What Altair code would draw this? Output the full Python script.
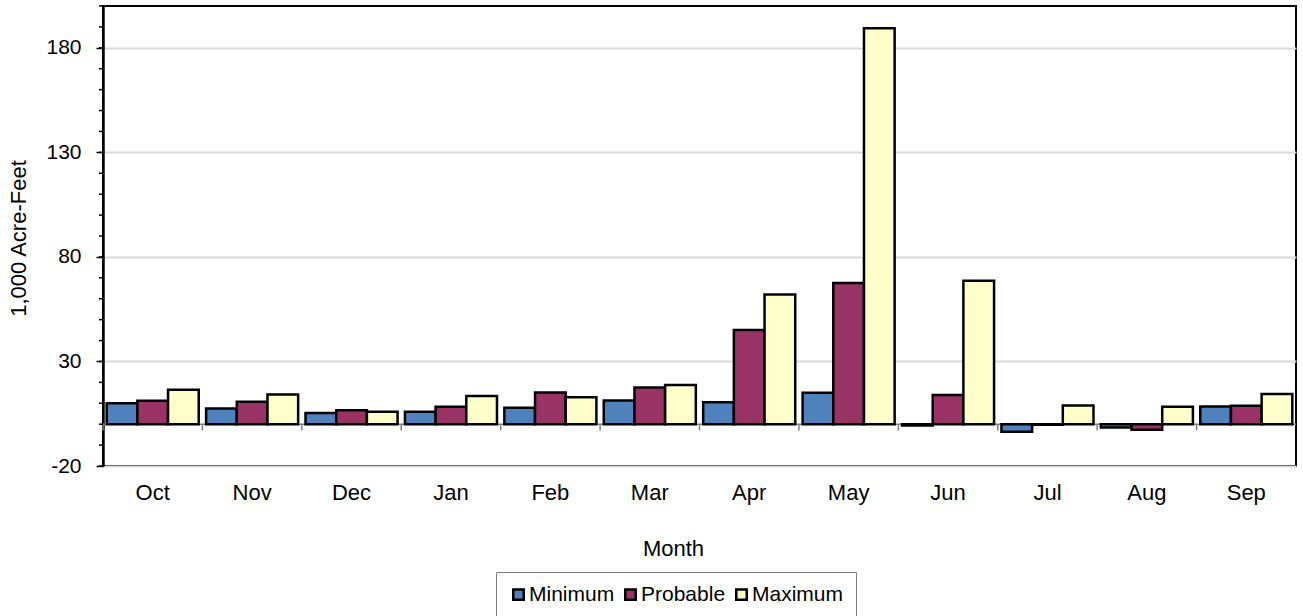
import altair as alt
import pandas as pd

# Monthly volume forecasts, 1,000 acre-feet
MONTHS = ["Oct", "Nov", "Dec", "Jan", "Feb", "Mar", "Apr", "May", "Jun", "Jul", "Aug", "Sep"]
SERIES = ["Minimum", "Probable", "Maximum"]
MINIMUM = [10.0, 7.5, 5.4, 5.9, 7.8, 11.3, 10.5, 15.0, -0.6, -3.6, -1.6, 8.5]
PROBABLE = [11.2, 10.7, 6.7, 8.3, 15.1, 17.5, 45.0, 67.5, 13.9, -0.3, -2.7, 8.8]
MAXIMUM = [16.5, 14.2, 5.9, 13.5, 12.9, 18.7, 62.0, 189.3, 68.6, 8.9, 8.3, 14.4]
COLORS = ["#4f81bd", "#993366", "#ffffcc"]

Y_DOMAIN = [-20, 200]
MAJOR_TICKS = [-20, 30, 80, 130, 180]
MINOR_TICKS = [-20, -10, 0, 10, 20, 30, 40, 50, 60, 70, 80, 90, 100,
               110, 120, 130, 140, 150, 160, 170, 180, 190, 200]

FONT = "Liberation Sans"
W, H = 1193, 460

rows = []
for name, vals in zip(SERIES, [MINIMUM, PROBABLE, MAXIMUM]):
    for m, v in zip(MONTHS, vals):
        rows.append({"month": m, "series": name, "value": v})
df = pd.DataFrame(rows)

y_scale = alt.Scale(domain=Y_DOMAIN, nice=False)
x_scale = alt.Scale(paddingInner=0, paddingOuter=0)

x_axis = alt.Axis(
    title="Month",
    labelAngle=0,
    ticks=False,
    domain=False,
    grid=False,
    labelFontSize=22,
    labelPadding=16,
    labelColor="black",
    titleFontSize=22,
    titleFontWeight="normal",
    titleColor="black",
    titleX=570,
    titleY=89,
    titleAlign="center",
    titleBaseline="alphabetic",
)

y_axis = alt.Axis(
    title="1,000 Acre-Feet",
    values=MAJOR_TICKS,
    labelExpr="(datum.value < 0 ? '-' : '') + abs(datum.value)",
    grid=True,
    gridColor="#d9d9d9",
    gridWidth=2,
    tickSize=7,
    tickColor="black",
    tickWidth=1.5,
    domainColor="black",
    domainWidth=2.5,
    labelFontSize=21,
    labelPadding=15,
    labelColor="black",
    titleFontSize=22,
    titleFontWeight="normal",
    titleColor="black",
    titleX=-85,
    titleY=H / 2 + 2,
    titleAngle=270,
    titleAlign="center",
    titleBaseline="middle",
)

# horizontal axis line through zero
zero_line = alt.Chart(pd.DataFrame({"value": [0]})).mark_rule(
    color="#808080", strokeWidth=1.5
).encode(
    y=alt.Y("value:Q", scale=y_scale, axis=y_axis),
    x=alt.value(0),
    x2=alt.value(W),
)

bars = alt.Chart(df).mark_bar(stroke="black", strokeWidth=2.5).encode(
    x=alt.X("month:N", sort=MONTHS, scale=x_scale, axis=x_axis),
    xOffset=alt.XOffset(
        "series:N", sort=SERIES,
        scale=alt.Scale(paddingInner=0, paddingOuter=0.12),
    ),
    y=alt.Y("value:Q", scale=y_scale, axis=y_axis),
    color=alt.Color(
        "series:N",
        sort=SERIES,
        scale=alt.Scale(domain=SERIES, range=COLORS),
        legend=alt.Legend(
            title=None,
            orient="none",
            legendX=393,
            legendY=566,
            direction="horizontal",
            symbolType="square",
            symbolSize=110,
            symbolStrokeColor="black",
            symbolStrokeWidth=2.5,
            symbolOpacity=1,
            labelFontSize=21,
            labelColor="black",
            labelOffset=0,
            columnPadding=5,
            padding=12,
            strokeColor="#808080",
            fillColor="white",
        ),
    ),
)

# minor tick marks on the value axis
minor_ticks = alt.Chart(pd.DataFrame({"value": MINOR_TICKS})).mark_rule(
    color="black", strokeWidth=1.5
).encode(
    y=alt.Y("value:Q", scale=y_scale, axis=y_axis),
    x=alt.value(-4),
    x2=alt.value(0),
)

# category separators hanging below the zero line
cat_ticks = alt.Chart(
    pd.DataFrame({"month": MONTHS, "value": [0] * len(MONTHS), "value_end": [-3] * len(MONTHS)})
).mark_rule(color="#808080", strokeWidth=1.5).encode(
    x=alt.X("month:N", sort=MONTHS, bandPosition=0, scale=x_scale, axis=x_axis),
    y=alt.Y("value:Q", scale=y_scale, axis=y_axis),
    y2="value_end:Q",
)

chart = (
    alt.layer(zero_line, cat_ticks, bars, minor_ticks)
    .properties(
        width=W,
        height=H,
        padding={"left": 103, "top": 6, "right": 7, "bottom": 150},
        autosize=alt.AutoSizeParams(type="none"),
    )
    .configure(font=FONT, background="white")
    .configure_view(stroke="black", strokeWidth=2)
)

chart.save("out.html", embed_options={"renderer": "svg", "actions": False})
